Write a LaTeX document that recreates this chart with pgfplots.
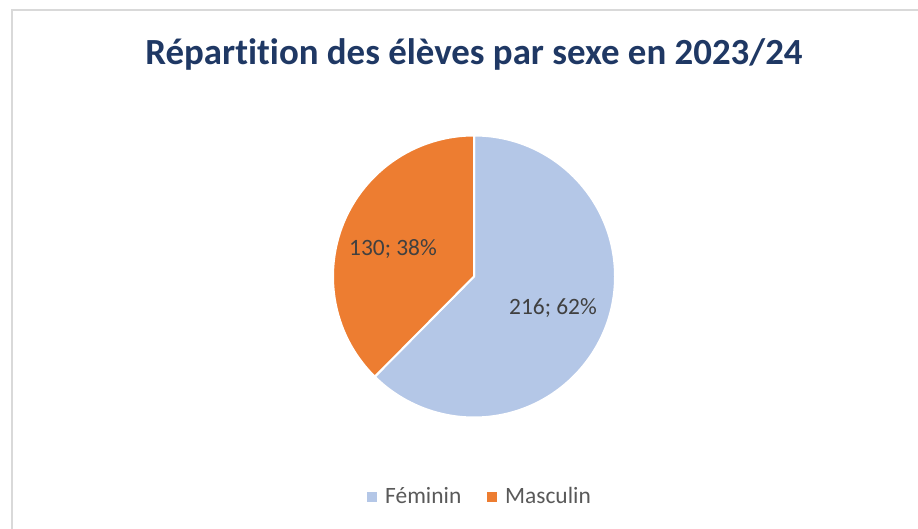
\documentclass[border=0pt]{standalone}
\usepackage{fontspec}
\setmainfont{Carlito}[Ligatures=NoCommon]
\usepackage{pgfplots}
\usepackage{pgfplotstable}
\pgfplotsset{compat=1.18}
\definecolor{fem}{HTML}{B4C7E7}
\definecolor{masc}{HTML}{ED7D31}
\definecolor{titleblue}{HTML}{1F3864}
\definecolor{lbl}{HTML}{404040}
\definecolor{leg}{HTML}{595959}
\definecolor{frame}{HTML}{D9D9D9}
\pgfplotstableread{
label value
Féminin 216
Masculin 130
}\piedata
\begin{document}
\begin{tikzpicture}
\pgfplotstablegetelem{0}{value}\of\piedata \let\vF\pgfplotsretval
\pgfplotstablegetelem{1}{value}\of\piedata \let\vM\pgfplotsretval
\pgfmathsetmacro{\aF}{360*(\vF/(\vF+\vM))}
\pgfmathsetmacro{\aEnd}{90-\aF}
\begin{axis}[
  x=1bp, y=1bp,
  xmin=0, xmax=918, ymin=0, ymax=529,
  hide axis, clip=false,
]
\coordinate (bl) at (axis cs:0,0);
\coordinate (tr) at (axis cs:918,529);
% frame
\draw[frame, line width=1.6bp] (axis cs:12,-10) -- (axis cs:12,519) -- (axis cs:930,519);
% title
\node[anchor=base, font=\fontsize{37}{40}\selectfont\bfseries, text=titleblue, inner sep=0pt] at (axis cs:474,464) {Répartition des élèves par sexe en 2023/24};
% pie
\fill[fem, draw=white, line width=2bp, line join=round] (axis cs:474,252.5) -- ++(90:141bp) arc[start angle=90, end angle=\aEnd, radius=141bp] -- cycle;
\fill[masc, draw=white, line width=2bp, line join=round] (axis cs:474,252.5) -- ++(\aEnd:141bp) arc[start angle=\aEnd, end angle=-270, radius=141bp] -- cycle;
% data labels
\node[font=\fontsize{23.5}{26}\selectfont, text=lbl, inner sep=0pt] at (axis cs:553,221) {216; 62\%};
\node[font=\fontsize{23.5}{26}\selectfont, text=lbl, inner sep=0pt] at (axis cs:393,279.5) {130; 38\%};
% legend
\fill[fem] (axis cs:367,26.5) rectangle (axis cs:377,36.5);
\node[anchor=base west, font=\fontsize{23.5}{26}\selectfont, text=leg, inner sep=0pt] at (axis cs:385,25) {Féminin};
\fill[masc] (axis cs:487,26.5) rectangle (axis cs:497,36.5);
\node[anchor=base west, font=\fontsize{23.5}{26}\selectfont, text=leg, inner sep=0pt] at (axis cs:505,25) {Masculin};
\end{axis}
\pgfresetboundingbox
\path[use as bounding box] (bl) rectangle (tr);
\end{tikzpicture}
\end{document}
